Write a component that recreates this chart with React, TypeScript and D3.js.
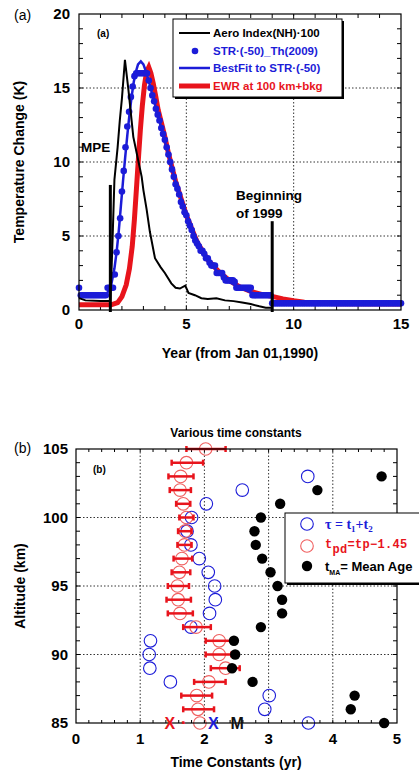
import React from 'react';
import * as d3 from 'd3';

// ---- panel (a) data ----
const aeroYears = [0, 0.3, 1.0, 1.45, 1.5, 1.58, 1.65, 1.8, 1.9, 2.0, 2.14, 2.3, 2.53, 2.76, 2.92, 3.0, 3.15, 3.3, 3.54, 3.8, 4.0, 4.3, 4.5, 4.7, 4.95, 5.1, 5.4, 5.7, 6.0, 6.4, 6.8, 7.2, 7.6, 8.0, 8.4, 8.7, 9.0];
const aeroValues = [0.8, 0.65, 0.6, 0.6, 2.0, 5.5, 8.8, 11.0, 12.8, 14.3, 16.9, 14.9, 11.7, 10.1, 9.0, 8.1, 6.8, 5.3, 3.5, 2.9, 2.5, 1.8, 1.5, 1.45, 1.65, 1.15, 1.0, 0.8, 0.75, 0.8, 0.65, 0.6, 0.5, 0.4, 0.25, 0.15, 0.15];

// STR-(-50)_Th(2009), one value per month from Jan 1990
const strMonthly = [
  1.5, 1.0, 1.0, 1.0, 1.0, 1.0, 1.0, 1.0, 1.0, 1.0, 1.0, 1.0,
  1.0, 1.0, 1.0, 1.0, 1.5, 1.5, 1.5, 1.5, 2.4, 3.9, 5.0, 6.2,
  8.0, 9.4, 11.0, 12.4, 13.4, 14.4, 15.1, 15.8, 16.0, 16.0, 16.0, 16.0,
  16.0, 16.0, 16.0, 15.5, 15.0, 14.5, 14.1, 13.6, 13.2, 12.8, 12.3, 11.9,
  11.5, 11.0, 10.5, 10.0, 9.5, 9.0, 8.5, 8.2, 7.8, 7.3, 7.0, 6.6,
  6.4, 6.0, 5.7, 5.4, 5.0, 4.7, 4.5, 4.3, 4.0, 4.0, 3.8, 3.5,
  3.5, 3.2, 3.0, 3.0, 3.0, 2.5, 2.5, 2.5, 2.5, 2.2, 2.0, 2.0,
  2.0, 2.0, 2.0, 1.9, 1.5, 1.5, 1.5, 1.5, 1.5, 1.5, 1.5, 1.5,
  1.5, 1.0, 1.0, 1.0, 1.0, 1.0, 1.0, 1.0, 1.0, 1.0, 1.0, 1.0,
  0.45, 0.45, 0.45, 0.45, 0.45, 0.45, 0.45, 0.45, 0.45, 0.45, 0.45, 0.45,
  0.45, 0.45, 0.45, 0.45, 0.45, 0.45, 0.45, 0.45, 0.45, 0.45, 0.45, 0.45,
  0.45, 0.45, 0.45, 0.45, 0.45, 0.45, 0.45, 0.45, 0.45, 0.45, 0.45, 0.45,
  0.45, 0.45, 0.45, 0.45, 0.45, 0.45, 0.45, 0.45, 0.45, 0.45, 0.45, 0.45,
  0.45, 0.45, 0.45, 0.45, 0.45, 0.45, 0.45, 0.45, 0.45, 0.45, 0.45, 0.45,
  0.45, 0.45, 0.45, 0.45, 0.45, 0.45, 0.45, 0.45, 0.45, 0.45, 0.45, 0.45,
  0.45,
];

const fitYears = [0, 1.2, 1.3, 1.5, 1.65, 1.75, 1.85, 1.95, 2.05, 2.15, 2.25, 2.35, 2.45, 2.55, 2.65, 2.75, 2.88, 3.0, 3.15, 3.3, 3.5, 4.0, 4.5, 5.0, 5.5, 6.0, 6.5, 7.0, 7.5, 8.0, 8.5, 9.0, 9.0, 15];
const fitValues = [1.0, 1.0, 1.1, 1.7, 2.8, 3.9, 5.3, 7.0, 8.7, 10.3, 11.8, 13.2, 14.4, 15.4, 16.1, 16.6, 16.8, 16.6, 16.0, 15.2, 14.1, 11.4, 8.7, 6.5, 4.7, 3.4, 2.5, 1.9, 1.5, 1.2, 1.0, 0.9, 0.45, 0.45];

const ewrYears = [0, 1.5, 1.8, 2.0, 2.2, 2.35, 2.48, 2.58, 2.69, 2.78, 2.86, 2.95, 3.05, 3.15, 3.25, 3.35, 3.46, 3.58, 3.69, 3.85, 4.0, 4.15, 4.32, 4.5, 5.0, 5.5, 6.0, 6.5, 7.0, 7.5, 8.0, 8.5, 9.0, 9.5, 10.0, 10.5, 11.0, 12.0, 15.0];
const ewrValues = [0.35, 0.35, 0.5, 0.9, 1.7, 2.8, 4.3, 6.1, 8.5, 10.5, 12.2, 13.8, 15.2, 16.1, 16.4, 16.0, 15.3, 14.4, 13.5, 12.6, 11.7, 10.7, 9.7, 8.7, 6.4, 4.6, 3.4, 2.6, 2.0, 1.55, 1.25, 1.05, 0.92, 0.75, 0.62, 0.52, 0.47, 0.42, 0.4];

const markerYears = [1.46, 9.0];
const markerTops = [8.45, 6.0];

const legendA = ['Aero Index(NH)·100', 'STR·(-50)_Th(2009)', 'BestFit to STR·(-50)', 'EWR at 100 km+bkg'];

// ---- panel (b) data ----
const altitudes = [85, 86, 87, 88, 89, 90, 91, 92, 93, 94, 95, 96, 97, 98, 99, 100, 101, 102, 103, 104, 105];
const tauValues = [3.62, 2.94, 3.01, 1.47, 1.15, 1.14, 1.16, 1.79, 2.08, 2.17, 2.16, 2.06, 1.92, 1.79, 1.73, 1.80, 2.03, 2.59, 3.61, null, null];
const tpdValues = [1.93, 1.90, 1.88, 2.07, 2.33, 2.23, 2.23, 1.87, 1.62, 1.59, 1.58, 1.61, 1.65, 1.69, 1.70, 1.72, 1.67, 1.62, 1.63, 1.72, 2.02];
const tpdLow = [null, 1.67, 1.64, 1.84, 2.10, 2.02, 2.02, 1.67, 1.43, 1.41, 1.43, 1.49, 1.52, 1.58, 1.59, 1.61, 1.56, 1.46, 1.44, 1.49, 1.72];
const tpdHigh = [null, 2.15, 2.12, 2.33, 2.55, 2.42, 2.42, 2.10, 1.82, 1.79, 1.76, 1.78, 1.81, 1.80, 1.80, 1.83, 1.78, 1.79, 1.83, 1.98, 2.33];
const tmaValues = [4.80, 4.28, 4.34, 2.75, 2.43, 2.48, 2.46, 2.88, 3.21, 3.21, 3.14, 3.03, 2.90, 2.80, 2.78, 2.88, 3.18, 3.76, 4.76, null, null];

const axisMarks = [
  { label: 'X', value: 1.46, color: '#e8141c' },
  { label: '·', value: 1.68, color: '#e8141c' },
  { label: 'X', value: 2.14, color: '#1c1cd8' },
  { label: 'M', value: 2.51, color: '#111' },
];

const RED = '#e8141c';
const BLUE = '#1c1cd8';
const FONT = "Arial, 'Liberation Sans', sans-serif";

const App = () => {
  const xA = d3.scaleLinear().domain([0, 15]).range([79, 401]);
  const yA = d3.scaleLinear().domain([0, 20]).range([310, 14]);
  const xB = d3.scaleLinear().domain([0, 5]).range([76, 397]);
  const yB = d3.scaleLinear().domain([85, 105]).range([723, 449]);

  const lineA = d3.line<[number, number]>().x(d => xA(d[0])).y(d => yA(d[1]));
  const aeroPath = lineA(aeroYears.map((y, i) => [y, aeroValues[i]]));
  const fitPath = lineA(fitYears.map((y, i) => [y, fitValues[i]]));
  const ewrPath = lineA(ewrYears.map((y, i) => [y, ewrValues[i]]));

  const grid = { stroke: '#000', strokeWidth: 0.8, strokeDasharray: '1.5,2' };

  return (
    <svg width={419} height={774} style={{ position: 'absolute', left: 0, top: 0, background: '#fff' }} fontFamily={FONT}>
      {/* ================= panel (a) ================= */}
      <text x={14} y={20} fontSize={14}>(a)</text>
      {[5, 10].map(v => <line key={'gx' + v} x1={xA(v)} x2={xA(v)} y1={yA(0)} y2={yA(20)} {...grid} />)}
      {[5, 10, 15].map(v => <line key={'gy' + v} x1={xA(0)} x2={xA(15)} y1={yA(v)} y2={yA(v)} {...grid} />)}
      {d3.range(1, 15).map(v => (
        <g key={'tx' + v}>
          <line x1={xA(v)} x2={xA(v)} y1={yA(0)} y2={yA(0) - 4} stroke="#000" />
          <line x1={xA(v)} x2={xA(v)} y1={yA(20)} y2={yA(20) + 4} stroke="#000" />
        </g>
      ))}
      {d3.range(1, 20).map(v => (
        <g key={'ty' + v}>
          <line x1={xA(0)} x2={xA(0) + 4} y1={yA(v)} y2={yA(v)} stroke="#000" />
          <line x1={xA(15)} x2={xA(15) - 4} y1={yA(v)} y2={yA(v)} stroke="#000" />
        </g>
      ))}
      <path d={ewrPath ?? ''} fill="none" stroke={RED} strokeWidth={5} />
      <path d={fitPath ?? ''} fill="none" stroke={BLUE} strokeWidth={2.5} />
      {strMonthly.map((v, i) => (
        <circle key={'s' + i} cx={xA(i / 12)} cy={yA(v)} r={3.3} fill={BLUE} />
      ))}
      <path d={aeroPath ?? ''} fill="none" stroke="#000" strokeWidth={2} />
      {markerYears.map((m, i) => (
        <line key={'m' + i} x1={xA(m)} x2={xA(m)} y1={yA(markerTops[i])} y2={yA(0) + 2} stroke="#000" strokeWidth={3} />
      ))}
      <rect x={xA(0)} y={yA(20)} width={xA(15) - xA(0)} height={yA(0) - yA(20)} fill="none" stroke="#000" strokeWidth={1.2} />
      {[0, 5, 10, 15, 20].map(v => (
        <text key={'ly' + v} x={70} y={yA(v) + 5} fontSize={15} fontWeight="bold" textAnchor="end">{v}</text>
      ))}
      {[0, 5, 10, 15].map(v => (
        <text key={'lx' + v} x={xA(v)} y={329} fontSize={15} fontWeight="bold" textAnchor="middle">{v}</text>
      ))}
      <text x={240} y={358} fontSize={14} fontWeight="bold" textAnchor="middle">Year (from Jan 01,1990)</text>
      <text transform="translate(24,162) rotate(-90)" fontSize={14} fontWeight="bold" textAnchor="middle">Temperature Change (K)</text>
      <text x={97} y={37} fontSize={10} fontWeight="bold">(a)</text>
      <text x={81} y={152} fontSize={13.5} fontWeight="bold">MPE</text>
      <text x={236} y={200} fontSize={13.5} fontWeight="bold">Beginning</text>
      <text x={236} y={218} fontSize={13.5} fontWeight="bold">of 1999</text>

      {/* legend (a) */}
      <rect x={175} y={21} width={169} height={78} fill="#000" />
      <rect x={173} y={19} width={169} height={78} fill="#fff" stroke="#000" strokeWidth={1} />
      <line x1={179} x2={210} y1={33} y2={33} stroke="#000" strokeWidth={2} />
      <circle cx={195} cy={51} r={3.3} fill={BLUE} />
      <line x1={179} x2={210} y1={68} y2={68} stroke={BLUE} strokeWidth={2.5} />
      <line x1={179} x2={210} y1={86} y2={86} stroke={RED} strokeWidth={5} />
      {legendA.map((t, i) => (
        <text key={'la' + i} x={213} y={37 + i * 17.7} fontSize={11.5} fontWeight="bold" fill={i === 0 ? '#000' : i === 3 ? RED : BLUE}>{t}</text>
      ))}

      {/* ================= panel (b) ================= */}
      <text x={14} y={453} fontSize={14}>(b)</text>
      <text x={236} y={437} fontSize={12} fontWeight="bold" textAnchor="middle">Various time constants</text>
      {[1, 2, 3, 4].map(v => <line key={'bgx' + v} x1={xB(v)} x2={xB(v)} y1={yB(85)} y2={yB(105)} {...grid} />)}
      {[90, 95, 100].map(v => <line key={'bgy' + v} x1={xB(0)} x2={xB(5)} y1={yB(v)} y2={yB(v)} {...grid} />)}
      {d3.range(1, 25).map(k => {
        const v = k * 0.2;
        return (
          <g key={'btx' + k}>
            <line x1={xB(v)} x2={xB(v)} y1={yB(85)} y2={yB(85) - 3} stroke="#000" />
            <line x1={xB(v)} x2={xB(v)} y1={yB(105)} y2={yB(105) + 3} stroke="#000" />
          </g>
        );
      })}
      {d3.range(86, 105).map(v => (
        <g key={'bty' + v}>
          <line x1={xB(0)} x2={xB(0) + 4} y1={yB(v)} y2={yB(v)} stroke="#000" />
          <line x1={xB(5)} x2={xB(5) - 4} y1={yB(v)} y2={yB(v)} stroke="#000" />
        </g>
      ))}
      {tauValues.map((v, i) => v === null ? null : (
        <circle key={'tau' + i} cx={xB(v)} cy={yB(altitudes[i])} r={6.3} fill="none" stroke={BLUE} strokeWidth={1.1} />
      ))}
      {tpdValues.map((v, i) => (
        <circle key={'tpd' + i} cx={xB(v)} cy={yB(altitudes[i])} r={6.3} fill="none" stroke="#f06060" strokeWidth={1.1} />
      ))}
      {tpdValues.map((v, i) => {
        const lo = tpdLow[i];
        const hi = tpdHigh[i];
        if (lo === null || hi === null) return null;
        const cy = yB(altitudes[i]);
        return (
          <g key={'eb' + i} stroke={RED} strokeWidth={2.5}>
            <line x1={xB(lo)} x2={xB(hi)} y1={cy} y2={cy} />
            <line x1={xB(lo)} x2={xB(lo)} y1={cy - 3} y2={cy + 3} />
            <line x1={xB(hi)} x2={xB(hi)} y1={cy - 3} y2={cy + 3} />
          </g>
        );
      })}
      {tmaValues.map((v, i) => v === null ? null : (
        <circle key={'tma' + i} cx={xB(v)} cy={yB(altitudes[i])} r={5.2} fill="#000" />
      ))}
      <rect x={xB(0)} y={yB(105)} width={xB(5) - xB(0)} height={yB(85) - yB(105)} fill="none" stroke="#000" strokeWidth={1.2} />
      {axisMarks.map((m, i) => (
        <text key={'am' + i} x={xB(m.value)} y={yB(85) + 6} fontSize={m.label === '·' ? 18 : 16} fontWeight="bold" fill={m.color} textAnchor="middle">{m.label}</text>
      ))}
      {[85, 90, 95, 100, 105].map(v => (
        <text key={'bly' + v} x={68} y={yB(v) + 5} fontSize={15} fontWeight="bold" textAnchor="end">{v}</text>
      ))}
      {[0, 1, 2, 3, 4, 5].map(v => (
        <text key={'blx' + v} x={xB(v)} y={744} fontSize={15} fontWeight="bold" textAnchor="middle">{v}</text>
      ))}
      <text x={236} y={767} fontSize={14} fontWeight="bold" textAnchor="middle">Time Constants (yr)</text>
      <text transform="translate(25,586) rotate(-90)" fontSize={14} fontWeight="bold" textAnchor="middle">Altitude (km)</text>
      <text x={93} y={473} fontSize={10} fontWeight="bold">(b)</text>

      {/* legend (b) */}
      <rect x={287} y={515} width={140} height={70} fill="#000" />
      <rect x={285} y={513} width={140} height={70} fill="#fff" stroke="#000" strokeWidth={1} />
      <circle cx={307} cy={524} r={6.3} fill="none" stroke={BLUE} strokeWidth={1.1} />
      <circle cx={307} cy={546} r={6.3} fill="none" stroke="#f06060" strokeWidth={1.1} />
      <circle cx={307} cy={566} r={5.2} fill="#000" />
      <text x={325} y={529} fontSize={14} fontWeight="bold" fill={BLUE} fontFamily="'Liberation Serif', serif">
        τ = t<tspan fontSize={9} dy={3}>1</tspan><tspan dy={-3}>+t</tspan><tspan fontSize={9} dy={3}>2</tspan>
      </text>
      <text x={325} y={548} fontSize={12} fontWeight="bold" fill={RED} fontFamily="'Liberation Mono', monospace" letterSpacing={0.3}>
        t<tspan dy={5}>pd</tspan><tspan dy={-5}>=tp−1.45</tspan>
      </text>
      <text x={325} y={571} fontSize={13} fontWeight="bold" fill="#000">
        t<tspan fontSize={7} dy={4}>MA</tspan><tspan dy={-4}>= Mean Age</tspan>
      </text>
    </svg>
  );
};

export default App;
